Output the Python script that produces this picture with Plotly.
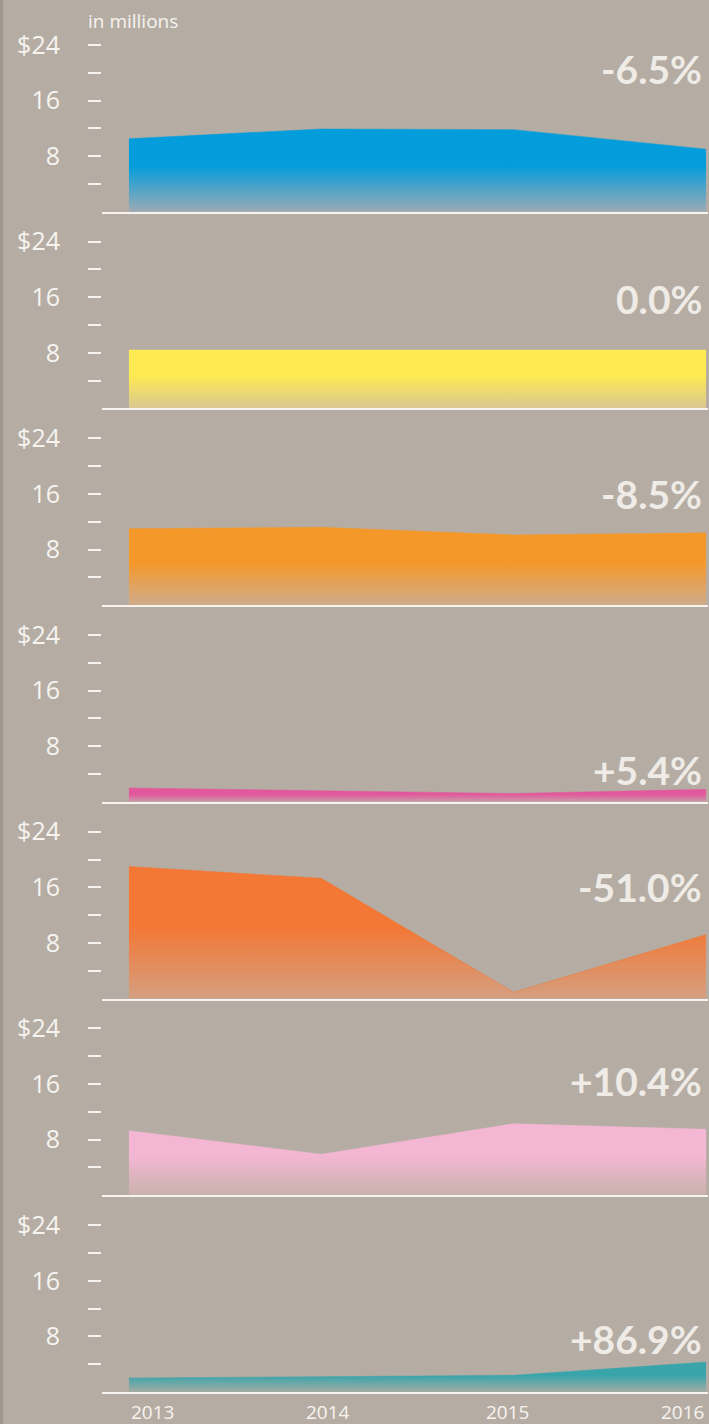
import plotly.graph_objects as go
from plotly.subplots import make_subplots

years = [2013, 2014, 2015, 2016]
year_labels = ["2013", "2014", "2015", "2016"]

series_1 = [10.5, 11.9, 11.8, 9.0]
series_2 = [8.4, 8.4, 8.4, 8.4]
series_3 = [11.0, 11.2, 10.1, 10.4]
series_4 = [2.0, 1.6, 1.2, 1.8]
series_5 = [19.0, 17.3, 0.9, 9.2]
series_6 = [9.3, 5.9, 10.3, 9.5]
series_7 = [2.0, 2.2, 2.4, 4.3]

changes = ["-6.5%", "0.0%", "-8.5%", "+5.4%", "-51.0%", "+10.4%", "+86.9%"]

y_tickvals = [8, 16, 24]
y_ticktext = ["8", "16", "$24"]
y_minor = [4, 12, 20]

# styling (not data)
all_series = [series_1, series_2, series_3, series_4, series_5, series_6, series_7]
top_colors = ["#049ddb", "#fde952", "#f5982a", "#e2589c", "#f37735", "#f3b7d3", "#3aa4ab"]
bottom_colors = ["#9caab4", "#d8c794", "#cfab8a", "#c99ca9", "#d59f80", "#c9b1ab", "#a3aca4"]
label_y = [20.6, 15.8, 16.0, 4.6, 16.0, 16.5, 7.6]

BG = "#b5ada3"
WHITE = "#f7f4f0"
YMAX = 28.3

fig = make_subplots(rows=7, cols=1, shared_xaxes=True, vertical_spacing=0)

for i, s in enumerate(all_series):
    r = i + 1
    fig.add_trace(
        go.Scatter(
            x=years, y=s, mode="lines", fill="tozeroy",
            line=dict(width=0.5, color=top_colors[i]),
            fillgradient=dict(
                type="vertical",
                colorscale=[[0, bottom_colors[i]], [0.55, top_colors[i]], [1, top_colors[i]]],
                start=0, stop=max(s),
            ),
            hoverinfo="skip", showlegend=False,
        ),
        row=r, col=1,
    )
    fig.update_yaxes(
        row=r, col=1, range=[0, YMAX], tickvals=y_tickvals, ticktext=y_ticktext,
        ticks="outside", ticklen=13, tickwidth=2, tickcolor=WHITE,
        ticklabelstandoff=23,
        tickfont=dict(family="Open Sans", size=25, color=WHITE),
        minor=dict(tickvals=y_minor, ticks="outside", ticklen=13, tickwidth=2, tickcolor=WHITE),
        showgrid=False, zeroline=False, showline=False, fixedrange=True,
    )
    fig.update_xaxes(
        row=r, col=1, range=[2012.86, 2016.01], showline=True, linecolor=WHITE,
        linewidth=2, showgrid=False, zeroline=False, showticklabels=False, ticks="",
        fixedrange=True,
    )
    yref = "y" if r == 1 else f"y{r}"
    fig.add_annotation(
        xref="paper", x=1, xanchor="right", xshift=-4,
        yref=yref, y=label_y[i], yanchor="middle",
        text=changes[i], showarrow=False,
        font=dict(family="Lato", size=39, color="#efebe6", weight="bold"),
    )

# year labels
anchors = ["left", "center", "center", "right"]
shifts = [0, 7, -6, 0]
for yv, lab, a, sh in zip(years, year_labels, anchors, shifts):
    fig.add_annotation(
        xref="x7", x=yv, xanchor=a, xshift=sh,
        yref="paper", y=0, yanchor="top", yshift=-5,
        text=lab, showarrow=False,
        font=dict(family="Open Sans", size=19, color=WHITE),
    )

fig.add_annotation(
    xref="paper", x=0, xanchor="left", xshift=-16,
    yref="paper", y=1, yanchor="middle", yshift=-6,
    text="in millions", showarrow=False,
    font=dict(family="Open Sans", size=19, color=WHITE),
)

fig.add_shape(
    type="rect", xref="paper", xsizemode="pixel", xanchor=0, x0=-102, x1=-99,
    yref="paper", y0=-0.05, y1=1.05, fillcolor="#a0988e", line=dict(width=0), layer="below",
)

fig.update_layout(
    width=709, height=1424,
    margin=dict(l=102, r=1, t=15, b=32),
    paper_bgcolor=BG, plot_bgcolor=BG,
    showlegend=False,
)

fig.write_html(
    "out.html",
    config={"displayModeBar": False, "staticPlot": True},
    post_script="document.body.style.margin='0';document.body.style.overflow='hidden';",
)
